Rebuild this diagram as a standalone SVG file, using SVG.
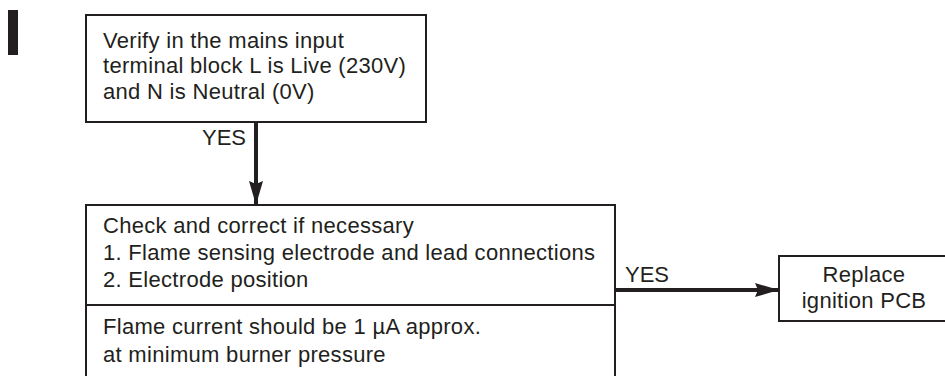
<svg xmlns="http://www.w3.org/2000/svg" width="945" height="376" viewBox="0 0 945 376">
<defs>
<style>
.box{fill:#fff;stroke:#231f20;stroke-width:2}
.t{font-family:"Liberation Sans",Arial,sans-serif;font-size:22px;letter-spacing:0.3px;fill:#231f20}
.c{stroke:#231f20;stroke-width:4;fill:none}
</style>
<marker id="ah" markerWidth="24" markerHeight="14" refX="24" refY="7" orient="auto" markerUnits="userSpaceOnUse" viewBox="0 0 24 14">
<path d="M0,0 L24,7 L0,14 L3,7 Z" fill="#231f20"/>
</marker>
</defs>
<rect x="8" y="10" width="10" height="45" fill="#231f20"/>
<g id="connectors">
<line class="c" x1="256" y1="122" x2="256" y2="205" marker-end="url(#ah)"/>
<text class="t" x="202" y="144.5" style="letter-spacing:0">YES</text>
<line class="c" x1="615" y1="290" x2="779" y2="290" marker-end="url(#ah)"/>
<text class="t" x="625" y="281.5" style="letter-spacing:0">YES</text>
</g>
<g id="n1">
<rect class="box" x="86" y="15" width="340" height="107"/>
<text class="t" x="103" y="47.5">Verify in the mains input</text>
<text class="t" x="103" y="73">terminal block L is Live (230V)</text>
<text class="t" x="103" y="98.5">and N is Neutral (0V)</text>
</g>
<g id="n2">
<rect class="box" x="86" y="205" width="529" height="180"/>
<line x1="86" y1="305" x2="615" y2="305" stroke="#231f20" stroke-width="2"/>
<text class="t" x="103" y="232.5">Check and correct if necessary</text>
<text class="t" x="103" y="259.5">1. Flame sensing electrode and lead connections</text>
<text class="t" x="103" y="286.5">2. Electrode position</text>
<text class="t" x="103" y="333.5">Flame current should be 1 µA approx.</text>
<text class="t" x="103" y="361.5">at minimum burner pressure</text>
</g>
<g id="n3">
<rect class="box" x="779" y="256" width="180" height="65"/>
<text class="t" x="864" y="281.5" text-anchor="middle">Replace</text>
<text class="t" x="864" y="308" text-anchor="middle">ignition PCB</text>
</g>
</svg>
